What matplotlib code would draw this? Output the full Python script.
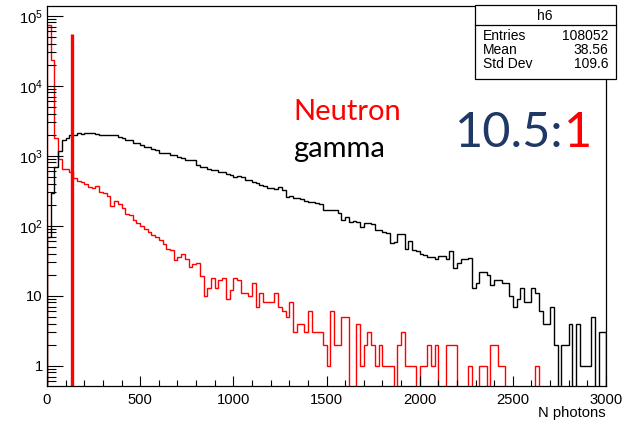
import matplotlib
matplotlib.use('Agg')
import matplotlib.pyplot as plt
import numpy as np
from matplotlib.ticker import FixedLocator, FixedFormatter, LogLocator, NullFormatter, MultipleLocator
from matplotlib.patches import Rectangle
from matplotlib.lines import Line2D

plt.rcParams['font.family'] = ['Liberation Sans', 'DejaVu Sans']
plt.rcParams['mathtext.fontset'] = 'custom'
plt.rcParams['mathtext.rm'] = 'Liberation Sans'
plt.rcParams['mathtext.default'] = 'regular'

# DATA
# 150 bins of 20 photons, 0..3000
bin_lo, bin_hi, bin_w = 0, 3000, 20

# neutron (h6), counts per bin
neutron = [73600, 23300, 1770, 890, 640, 640, 590, 475, 440, 415,
           390, 355, 343, 370, 305, 290, 270, 190, 225, 205,
           180, 145, 140, 122, 110, 100, 91, 82, 73, 70,
           62, 55, 47, 45, 32, 36, 40, 34, 26, 28,
           29, 19, 10, 13, 18, 13, 17, 18, 9, 12,
           18, 17, 11, 11, 10, 15, 7, 11, 8, 8,
           8, 11, 7, 6, 5, 8, 3, 4, 4, 3,
           6, 3, 3, 3, 2, 1, 6, 2, 2, 5,
           5, 0, 0, 4, 1, 2, 3, 2, 1, 2,
           1, 1, 1, 0, 2, 3, 1, 1, 1, 0,
           1, 1, 2, 1, 2, 0, 0, 2, 2, 2,
           0, 0, 0, 1, 0, 0, 1, 1, 0, 2,
           2, 1, 1, 0, 0, 0, 0, 0, 0, 0,
           0, 1, 0, 0, 0, 0, 0, 0, 0, 0,
           0, 0, 0, 0, 0, 0, 0, 0, 0, 0]

# gamma, counts per bin
gamma = [70, 290, 700, 1150, 1650, 1800, 1950, 2000, 2080, 2060,
         2100, 2080, 2120, 2060, 1990, 2000, 1960, 1980, 1950, 1870,
         1800, 1690, 1660, 1540, 1500, 1420, 1350, 1330, 1240, 1200,
         1090, 1110, 1100, 1030, 1010, 950, 940, 870, 870, 860,
         735, 700, 690, 640, 635, 630, 590, 585, 540, 535,
         500, 505, 495, 450, 445, 424, 410, 380, 375, 342,
         345, 340, 356, 323, 260, 262, 246, 250, 244, 222,
         218, 220, 209, 207, 170, 168, 166, 168, 150, 121,
         135, 114, 116, 112, 97, 108, 108, 106, 86, 86,
         80, 78, 56, 59, 76, 75, 47, 60, 45, 43,
         40, 38, 36, 36, 34, 37, 37, 34, 43, 25,
         29, 34, 34, 35, 13, 15, 22, 22, 20, 14,
         17, 17, 15, 15, 10, 7, 9, 13, 8, 8,
         13, 11, 6, 4, 4, 7, 2, 0, 2, 2,
         4, 0, 4, 1, 1, 1, 5, 0, 3, 3]

# vertical cut line
cut_x = 134
cut_top = 5.5e4

# stats box
stats_name = 'h6'
stats_rows = [('Entries', '108052'), ('Mean', '38.56'), ('Std Dev', '109.6')]

ytick_vals = [1, 10, 1e2, 1e3, 1e4, 1e5]
ytick_labels = ['1', '10', '$10^{2}$', '$10^{3}$', '$10^{4}$', '$10^{5}$']
xtick_vals = [0, 500, 1000, 1500, 2000, 2500, 3000]

W, H = 626, 423
def fx(px):
    return px / W
def fy(py):
    return 1 - py / H

fig = plt.figure(figsize=(W / 100, H / 100), dpi=100)
ax = fig.add_axes([fx(47), fy(385.7), fx(606) - fx(47), fy(5.7) - fy(385.7)])

edges = np.arange(bin_lo, bin_hi + bin_w, bin_w)
floor = 0.05
n = np.array(neutron, dtype=float)
g = np.array(gamma, dtype=float)
ax.stairs(np.where(n > 0, n, floor), edges, baseline=floor, color='#ff0000', lw=1.0)
ax.stairs(np.where(g > 0, g, floor), edges, baseline=floor, color='black', lw=1.0)
ax.vlines(cut_x, floor, cut_top, color='#ff0000', lw=2.4)

ax.set_yscale('log')
ax.set_xlim(bin_lo, bin_hi)
ax.set_ylim(0.518, 1.39e5)

ax.yaxis.set_major_locator(FixedLocator(ytick_vals))
ax.yaxis.set_major_formatter(FixedFormatter(ytick_labels))
ax.yaxis.set_minor_locator(LogLocator(base=10, subs=np.arange(2, 10), numticks=30))
ax.yaxis.set_minor_formatter(NullFormatter())
ax.xaxis.set_major_locator(FixedLocator(xtick_vals))
ax.xaxis.set_minor_locator(MultipleLocator(100))

ax.tick_params(axis='both', which='both', direction='in', top=False, right=False,
               width=0.8, labelsize=10.6, colors='black')
ax.tick_params(axis='y', which='major', length=11.5, pad=3)
ax.tick_params(axis='y', which='minor', length=6.7)
ax.tick_params(axis='x', which='major', length=7.2, pad=5)
ax.tick_params(axis='x', which='minor', length=4.1)
for s in ax.spines.values():
    s.set_linewidth(0.9)

fig.text(fx(606), fy(413), 'N photons', ha='right', va='center', fontsize=10.6)

# stats box
bx0, bx1, by0, by1, bsep = 475, 615.5, 5, 79.5, 25
fig.add_artist(Rectangle((fx(bx0), fy(by1)), fx(bx1) - fx(bx0), fy(by0) - fy(by1),
                         transform=fig.transFigure, facecolor='white', edgecolor='black',
                         lw=0.9, zorder=5))
fig.add_artist(Line2D([fx(bx0), fx(bx1)], [fy(bsep), fy(bsep)], transform=fig.transFigure,
                      color='black', lw=0.9, zorder=6))
fig.text(fx((bx0 + bx1) / 2), fy(15.5), stats_name, ha='center', va='center', fontsize=10, zorder=7)
for i, (k, v) in enumerate(stats_rows):
    yy = fy(36 + 14 * i)
    fig.text(fx(483), yy, k, ha='left', va='center', fontsize=10, zorder=7)
    fig.text(fx(608.5), yy, v, ha='right', va='center', fontsize=10, zorder=7)

# annotations
fig.text(fx(293), fy(120), 'Neutron', color='#ff0000', fontsize=21, family='Lato',
         ha='left', va='baseline')
fig.text(fx(293), fy(157), 'gamma', color='black', fontsize=21, family='Lato',
         ha='left', va='baseline')
t1 = fig.text(fx(455), fy(147), '10.5:', color='#1f3864', fontsize=35, family='Lato',
              ha='left', va='baseline')
fig.canvas.draw()
bb = t1.get_window_extent()
fig.text(bb.x1 / W, fy(147), '1', color='#ff0000', fontsize=35, family='Lato',
         ha='left', va='baseline')

fig.savefig('out.png', dpi=100)
